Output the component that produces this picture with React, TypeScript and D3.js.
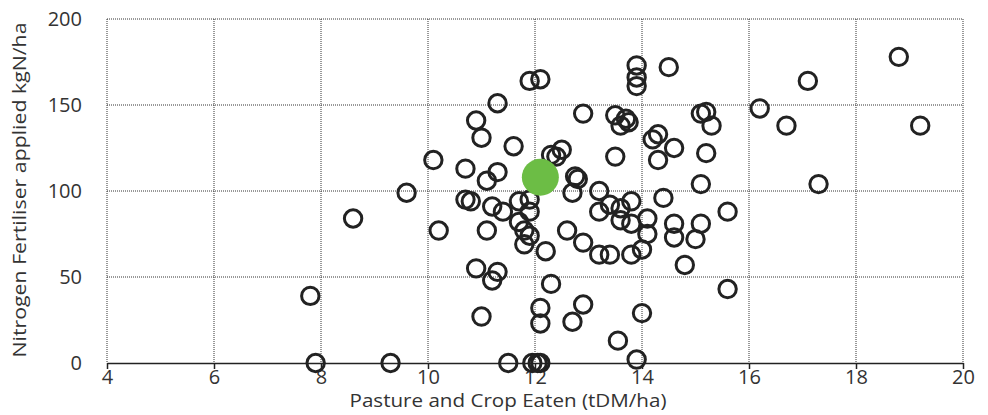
import * as d3 from 'd3';
import React, { useEffect, useRef } from 'react';

// pasture & crop eaten (tDM/ha) vs nitrogen applied (kgN/ha)
const eaten = [
  7.8, 7.9, 8.6, 9.3, 9.6, 10.1, 10.2, 10.7, 10.7, 10.8,
  10.9, 10.9, 11.0, 11.0, 11.1, 11.1, 11.2, 11.2, 11.3, 11.3,
  11.3, 11.4, 11.5, 11.6, 11.7, 11.7, 11.8, 11.8, 11.9, 11.9,
  11.9, 11.9, 11.95, 12.05, 12.1, 12.1, 12.1, 12.1, 12.2, 12.3,
  12.3, 12.4, 12.5, 12.6, 12.7, 12.7, 12.75, 12.8, 12.9, 12.9,
  12.9, 13.2, 13.2, 13.2, 13.4, 13.4, 13.5, 13.5, 13.55, 13.6,
  13.6, 13.6, 13.7, 13.75, 13.8, 13.8, 13.8, 13.9, 13.9, 13.9,
  13.9, 14.0, 14.0, 14.1, 14.1, 14.2, 14.3, 14.3, 14.4, 14.5,
  14.6, 14.6, 14.6, 14.8, 15.0, 15.1, 15.1, 15.1, 15.2, 15.2,
  15.3, 15.6, 15.6, 16.2, 16.7, 17.1, 17.3, 18.8, 19.2,
];
const nitrogen = [
  39, 0, 84, 0, 99, 118, 77, 113, 95, 94,
  141, 55, 131, 27, 77, 106, 91, 48, 151, 111,
  53, 88, 0, 126, 94, 82, 77, 69, 164, 95,
  88, 74, 0, 0, 0, 32, 23, 165, 65, 46,
  121, 120, 124, 77, 99, 24, 108.5, 107, 145, 70,
  34, 100, 88, 63, 92, 63, 144, 120, 13, 90,
  83, 138, 142, 140, 94, 81, 63, 173, 166, 161,
  2, 66, 29, 84, 75, 130, 133, 118, 96, 172,
  125, 81, 73, 57, 72, 145, 104, 81, 146, 122,
  138, 88, 43, 148, 138, 164, 104, 178, 138,
];
// highlighted farm
const highlight = { x: 12.1, y: 108 };

const xTicks = [4, 6, 8, 10, 12, 14, 16, 18, 20];
const yTicks = [0, 50, 100, 150, 200];

const FONT = '"Open Sans", Lato, sans-serif';

const App: React.FC = () => {
  const svgRef = useRef<SVGSVGElement>(null);
  const width = 988;
  const height = 415;

  useEffect(() => {
    if (!svgRef.current) return;
    const svg = d3.select(svgRef.current);
    svg.selectAll('*').remove();

    const x = d3.scaleLinear().domain([4, 20]).range([107, 963]);
    const y = d3.scaleLinear().domain([0, 200]).range([363, 19]);

    // dotted grid (includes frame on left, top, right)
    const grid = svg.append('g');
    grid.selectAll('.vg')
      .data(xTicks)
      .join('line')
      .attr('x1', d => x(d)).attr('x2', d => x(d))
      .attr('y1', y(200)).attr('y2', y(0))
      .attr('stroke', '#333')
      .attr('stroke-width', 1)
      .attr('stroke-dasharray', '1,1');
    grid.selectAll('.hg')
      .data(yTicks.filter(d => d > 0))
      .join('line')
      .attr('x1', x(4)).attr('x2', x(20))
      .attr('y1', d => y(d)).attr('y2', d => y(d))
      .attr('stroke', '#333')
      .attr('stroke-width', 1)
      .attr('stroke-dasharray', '1,1');

    // bottom axis, solid with ticks
    const xAxis = svg.append('g')
      .attr('transform', `translate(0, ${y(0)})`)
      .call(d3.axisBottom(x).tickValues(xTicks).tickSize(6).tickPadding(1).tickSizeOuter(0));
    xAxis.select('.domain').attr('stroke', '#222').attr('stroke-width', 1.5);
    xAxis.selectAll('line').attr('stroke', '#222').attr('stroke-width', 1.5);
    xAxis.selectAll('text')
      .style('font-size', '20px')
      .style('font-family', FONT)
      .attr('fill', '#333');

    // left tick labels only
    svg.append('g')
      .selectAll('text')
      .data(yTicks)
      .join('text')
      .attr('x', 82)
      .attr('y', d => y(d))
      .attr('dy', '0.35em')
      .attr('text-anchor', 'end')
      .style('font-size', '20px')
      .style('font-family', FONT)
      .attr('fill', '#333')
      .text(d => d);

    // points
    const pts = eaten.map((e, i) => ({ x: e, y: nitrogen[i] }));
    svg.append('g')
      .selectAll('circle')
      .data(pts)
      .join('circle')
      .attr('cx', d => x(d.x))
      .attr('cy', d => y(d.y))
      .attr('r', 8.7)
      .attr('fill', 'none')
      .attr('stroke', '#222')
      .attr('stroke-width', 3);

    svg.append('circle')
      .attr('cx', x(highlight.x))
      .attr('cy', y(highlight.y))
      .attr('r', 18.5)
      .attr('fill', '#6cbd45');

    // axis titles
    svg.append('text')
      .attr('x', 508)
      .attr('y', 407)
      .attr('text-anchor', 'middle')
      .style('font-size', '18px')
      .style('font-family', FONT)
      .attr('fill', '#333')
      .attr('textLength', 317)
      .attr('lengthAdjust', 'spacingAndGlyphs')
      .text('Pasture and Crop Eaten (tDM/ha)');

    svg.append('text')
      .attr('transform', `translate(26, ${190}) rotate(-90)`)
      .attr('text-anchor', 'middle')
      .style('font-size', '18px')
      .style('font-family', FONT)
      .attr('fill', '#333')
      .attr('textLength', 335)
      .attr('lengthAdjust', 'spacingAndGlyphs')
      .text('Nitrogen Fertiliser applied kgN/ha');
  }, []);

  return (
    <svg
      ref={svgRef}
      width={width}
      height={height}
      style={{ position: 'absolute', left: 0, top: 0, background: '#fff' }}
    />
  );
};

export default App;
